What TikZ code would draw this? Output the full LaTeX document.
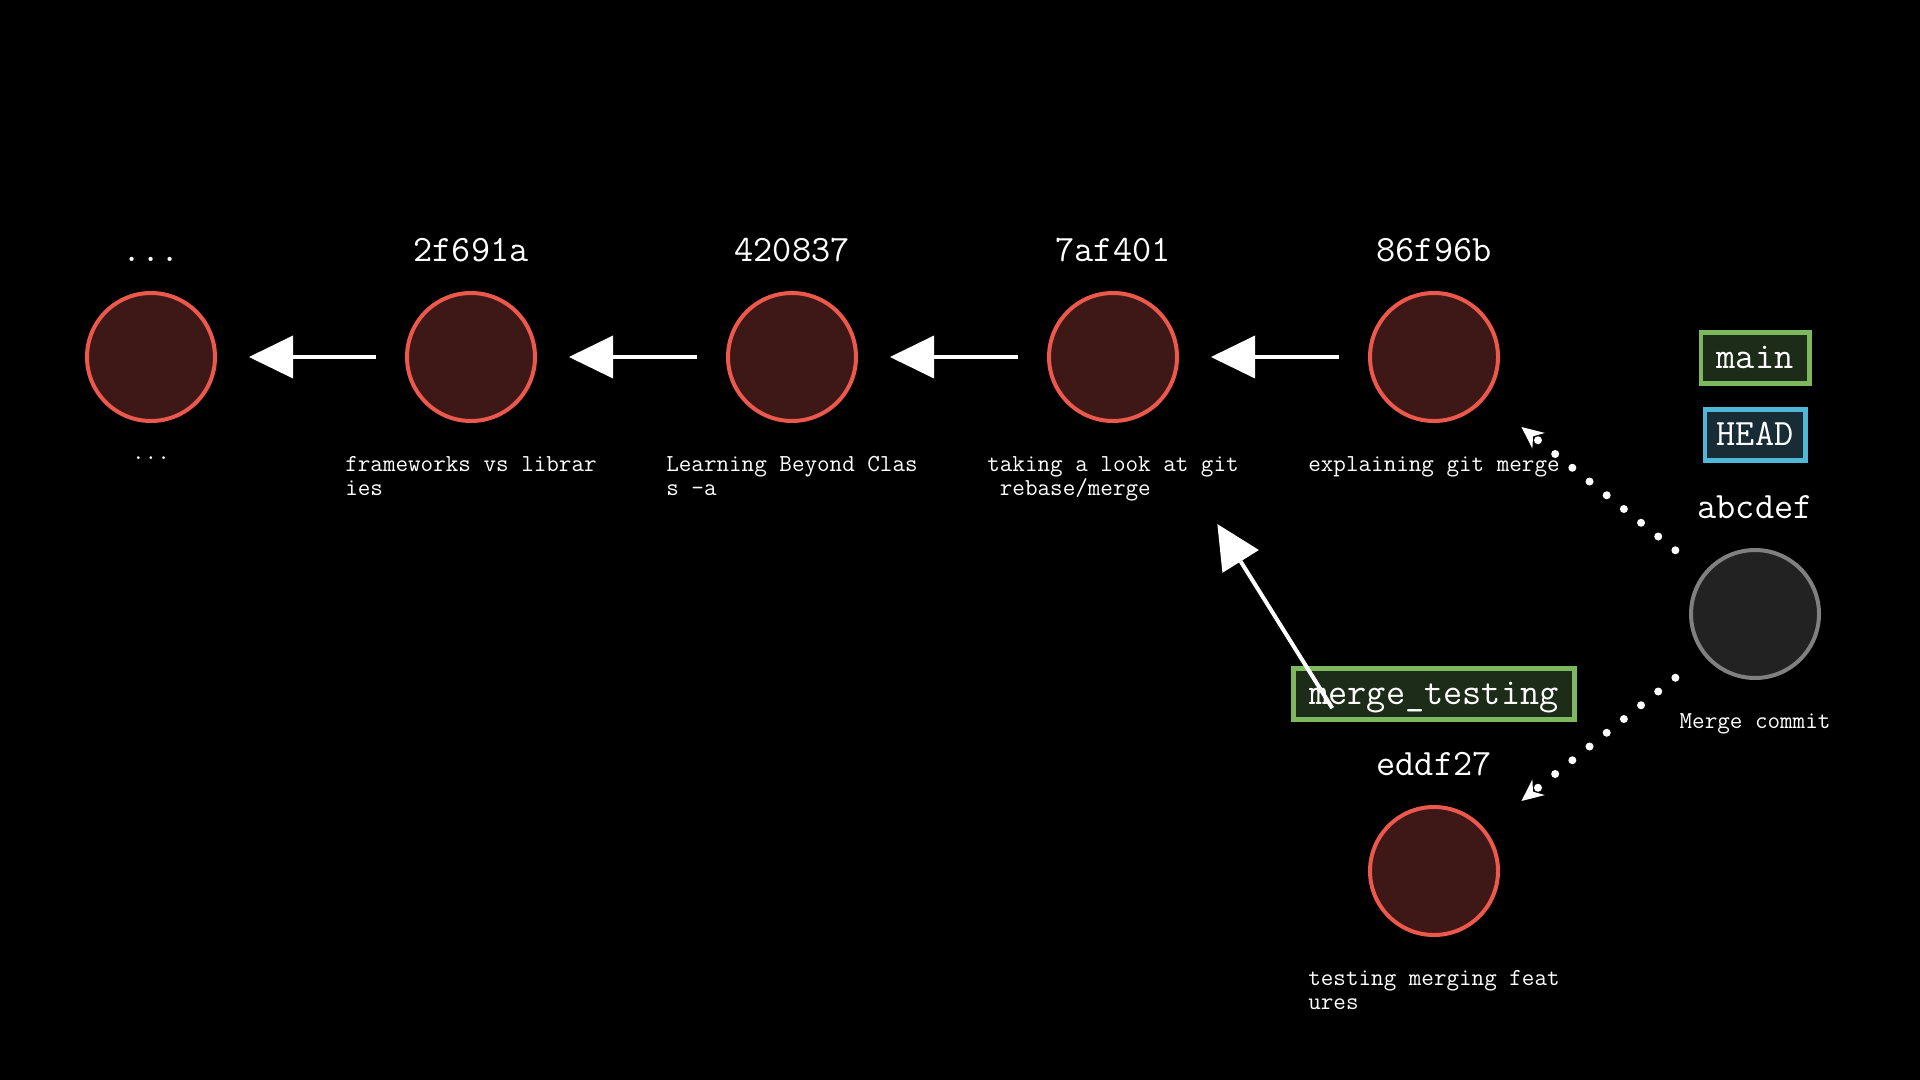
\documentclass[tikz,border=0pt]{standalone}
\usepackage{fontspec}
\usetikzlibrary{positioning,arrows.meta}
\definecolor{commitred}{RGB}{236,88,76}
\definecolor{commitfill}{RGB}{62,24,22}
\definecolor{mergegray}{RGB}{128,128,128}
\definecolor{mergefill}{RGB}{34,34,34}
\definecolor{branchgreen}{RGB}{125,184,95}
\definecolor{branchfill}{RGB}{29,44,24}
\definecolor{headblue}{RGB}{78,184,214}
\definecolor{headfill}{RGB}{24,44,54}
\begin{document}
\begin{tikzpicture}[x=0.5pt,y=-0.5pt,
    commit/.style={circle,draw=commitred,fill=commitfill,line width=2pt,minimum size=64pt,inner sep=0pt},
    mergecommit/.style={commit,draw=mergegray,fill=mergefill},
    hashlbl/.style={text=white,font=\ttfamily\fontsize{18.6}{20}\selectfont,inner sep=0pt},
    msglbl/.style={text=white,font=\ttfamily\fontsize{12.2}{12}\selectfont,inner sep=0pt,align=left},
    branch/.style={draw=branchgreen,fill=branchfill,line width=2.2pt,minimum height=25.5pt,inner xsep=8pt,
      text=white,font=\ttfamily\fontsize{18.6}{20}\selectfont,text height=10pt,text depth=0pt},
    headref/.style={branch,draw=headblue,fill=headfill,inner xsep=6pt},
    parent/.style={white,line width=2pt,shorten <=14.5pt,shorten >=16pt,
      -{Triangle[length=22pt,width=21.5pt,line width=0pt]}},
    mergeparent/.style={white,line width=4pt,line cap=round,dash pattern=on 0pt off 11pt,
      shorten <=18pt,shorten >=23pt,-{Stealth[length=11pt,width=10pt,line width=0pt]}}]
  \fill[black] (0,0) rectangle (1920,1080);

  % main line
  \node[commit] (c1) at (151,357) {};
  \node[commit] (c2) at (471,357) {};
  \node[commit] (c3) at (792,357) {};
  \node[commit] (c4) at (1113,357) {};
  \node[commit] (c5) at (1434,357) {};
  \node[hashlbl,above=14.5pt of c1] (h1) {...};
  \node[hashlbl,above=14.5pt of c2] (h2) {2f691a};
  \node[hashlbl,above=14.5pt of c3] (h3) {420837};
  \node[hashlbl,above=14.5pt of c4] (h4) {7af401};
  \node[hashlbl,above=14.5pt of c5] (h5) {86f96b};
  \node[msglbl,below=16.5pt of c1] (t1) {...};
  \node[msglbl,below=16.5pt of c2] (t2) {frameworks vs librar\\ies};
  \node[msglbl,below=16.5pt of c3] (t3) {Learning Beyond Clas\\s -a};
  \node[msglbl,below=16.5pt of c4] (t4) {taking a look at git\\\mbox{ }rebase/merge};
  \node[msglbl,below=16.5pt of c5] (t5) {explaining git merge};

  % merge commit and branch
  \node[mergecommit] (m) at (1755,614) {};
  \node[hashlbl,above=14.5pt of m] (hm) {abcdef};
  \node[msglbl,below=16.5pt of m] (tm) {Merge commit};
  \node[commit] (e) at (1434,871) {};
  \node[hashlbl,above=14.5pt of e] (he) {eddf27};
  \node[msglbl,below=16.5pt of e] (te) {testing merging feat\\ures};

  % refs
  \node[branch] (main) at (1755,358) {main};
  \node[headref] (head) at (1755,435) {HEAD};
  \node[branch] (mt) at (1434,694) {merge\_testing};

  \draw[parent] (c2) -- (c1);
  \draw[parent] (c3) -- (c2);
  \draw[parent] (c4) -- (c3);
  \draw[parent] (c5) -- (c4);
  \draw[parent,shorten <=63pt,shorten >=65.5pt] (e) -- (c4);
  \draw[mergeparent] (m) -- (c5);
  \draw[mergeparent] (m) -- (e);
\end{tikzpicture}
\end{document}
